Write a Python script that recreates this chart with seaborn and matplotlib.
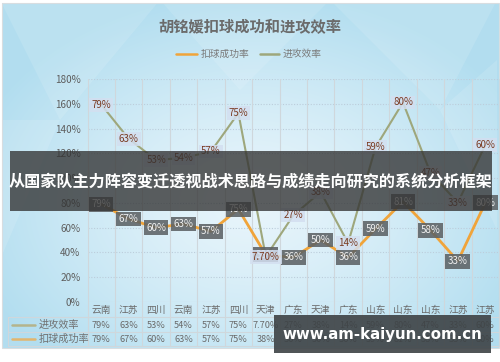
import numpy as np
import pandas as pd
import matplotlib
matplotlib.use("Agg")
import matplotlib.pyplot as plt
from matplotlib.patches import Rectangle
from matplotlib.transforms import blended_transform_factory
import seaborn as sns

sns.set_theme(style="white")
plt.rcParams['font.family'] = ['Noto Sans CJK SC', 'DejaVu Sans']

# ---------------- data ----------------
title = "胡铭媛扣球成功和进攻效率"
categories = ["云南", "江苏", "四川", "云南", "江苏", "四川", "天津", "广东",
              "天津", "广东", "山东", "山东", "山东", "江苏", "江苏"]
attack_eff = [79, 63, 53, 54, 57, 75, 7.7, 27, 38, 14, 59, 80, 47, 33, 60]      # 进攻效率
spike_rate = [79, 67, 60, 63, 57, 75, 38, 36, 50, 36, 59, 81, 58, 33, 80]       # 扣球成功率
series_names = ["扣球成功率", "进攻效率"]
y_ticks = [0, 20, 40, 60, 80, 100, 120, 140, 160, 180]
banner_text = "从国家队主力阵容变迁透视战术思路与成绩走向研究的系统分析框架"
watermark = "www.am-kaiyun.com.cn"

ORANGE = "#f0a43a"
GREEN = "#9ea77c"

W, H = 500, 362
fig = plt.figure(figsize=(W / 100, H / 100), dpi=100)
fig.patch.set_facecolor("white")

def fx(px):
    return px / W

def fy(py):
    return 1 - py / H

# ---------------- background ----------------
bg = fig.add_axes([0, 0, 1, 1], zorder=-10)
bg.set_xlim(0, W)
bg.set_ylim(H, 0)
bg.axis("off")
yy, xx = np.mgrid[0:346, 0:497]
cx, cy = 250, 200
d = np.sqrt(((xx - cx) / 290.0) ** 2 + ((yy - cy) / 210.0) ** 2)
d = np.clip(d, 0, 1)
light = np.array([0.91, 0.96, 0.985])
dark = np.array([0.70, 0.87, 0.94])
w = d[..., None] ** 1.3
img = light[None, None, :] * (1 - w) + dark[None, None, :] * w
bg.imshow(img, extent=(2, 499, 348, 3), aspect="auto", zorder=0)
facets = [((0, 0), (160, 0), (60, 120)), ((160, 0), (330, 0), (240, 90)),
          ((330, 0), (497, 0), (440, 110)), ((0, 120), (60, 120), (0, 260)),
          ((440, 110), (497, 60), (497, 230))]
for tri in facets:
    bg.add_patch(plt.Polygon(tri, closed=True, facecolor="white", alpha=0.12, edgecolor="none", zorder=1))
bg.add_patch(Rectangle((2, 3), 497, 345, fill=False, edgecolor="#d8dde0", lw=0.8, zorder=2))

# ---------------- main axes ----------------
left, right, top, bottom = 87.5, 499, 79, 302
ax = fig.add_axes([fx(left), fy(bottom), fx(right - left), (bottom - top) / H])
ax.patch.set_visible(False)
x = np.arange(len(categories))
df = pd.DataFrame({"x": x, "cat": categories, "eff": attack_eff, "spike": spike_rate})

sns.lineplot(data=df, x="x", y="spike", ax=ax, color=ORANGE, lw=2.0, sort=False, zorder=3)
ax.set_xlim(-0.5, len(categories) - 0.5)
ax.set_ylim(0, 180)
ax.set_yticks(y_ticks)
ax.set_yticklabels([f"{t}%" for t in y_ticks], color="#5e5e5e", fontsize=7.2)
ax.tick_params(axis="y", length=0, pad=5)
ax.set_xticks([])
ax.set_xlabel("")
ax.set_ylabel("")
for s in ax.spines.values():
    s.set_visible(False)
for t in y_ticks[1:]:
    ax.axhline(t, color="#bccddb", lw=0.8, ls=(0, (1, 1.5)), zorder=1)
ax.axhline(0, color="#cfd6da", lw=0.8, zorder=1)

ax2 = ax.twinx()
ax2.patch.set_visible(False)
sns.lineplot(data=df, x="x", y="eff", ax=ax2, color=GREEN, lw=1.5, sort=False, zorder=3)
ax2.set_ylim(-13.6, 91)
ax2.set_xlim(-0.5, len(categories) - 0.5)
ax2.set_yticks([])
ax2.set_ylabel("")
ax2.set_xlabel("")
for s in ax2.spines.values():
    s.set_visible(False)

def fmt(v):
    return f"{v:.2f}%" if float(v) != int(v) else f"{int(v)}%"

# data labels
for xi, v in zip(x, attack_eff):
    ax2.text(xi, v, fmt(v), ha="center", va="center", fontsize=7, color="#7a3b22",
             zorder=6, bbox=dict(boxstyle="square,pad=0.2", fc="#d3dff0", ec="none", alpha=0.85))
for xi, v in zip(x, spike_rate):
    ax2.text(xi, v, fmt(v), ha="center", va="center", fontsize=7, color="#f2f2f2",
             transform=ax.transData, zorder=5,
             bbox=dict(boxstyle="square,pad=0.25", fc="#5d6265", ec="none", alpha=0.88))

# ---------------- vertical category lines ----------------
btr = blended_transform_factory(ax.transData, fig.transFigure)
for b in np.arange(-0.5, len(categories), 1.0):
    ax.plot([b, b], [fy(top), fy(346)], transform=btr, color="#cfd7dc", lw=0.8,
            zorder=1, clip_on=False)

# ---------------- data table ----------------
row_y = [310, 325, 339]
for yl in [317, 332, 346]:
    fig.add_artist(plt.Line2D([fx(8), fx(right)], [fy(yl), fy(yl)], color="#cfd7dc", lw=0.8))
fig.add_artist(plt.Line2D([fx(8), fx(8)], [fy(317), fy(346)], color="#cfd7dc", lw=0.8))
for xi, c in zip(x, categories):
    ax.text(xi, fy(row_y[0]), c, transform=btr, ha="center", va="center", fontsize=7,
            color="#6a6a6a", clip_on=False)
for xi, v in zip(x, attack_eff):
    ax.text(xi, fy(row_y[1]), fmt(v), transform=btr, ha="center", va="center", fontsize=6.6,
            color="#6a6a6a", clip_on=False)
for xi, v in zip(x, spike_rate):
    ax.text(xi, fy(row_y[2]), fmt(v), transform=btr, ha="center", va="center", fontsize=6.6,
            color="#6a6a6a", clip_on=False)
for name, yl, col in [(series_names[1], row_y[1], "#b4b48c"), (series_names[0], row_y[2], "#e2b66e")]:
    fig.add_artist(plt.Line2D([fx(12), fx(35)], [fy(yl), fy(yl)], color=col, lw=1.8))
    fig.text(fx(39), fy(yl), name, ha="left", va="center", fontsize=7.3, color="#707070")

# ---------------- title & legend ----------------
fig.text(0.5, fy(27), title, ha="center", va="center", fontsize=11, fontweight="bold", color="#6b6b6b")
fig.add_artist(plt.Line2D([fx(176), fx(197)], [fy(54), fy(54)], color=ORANGE, lw=1.8))
fig.text(fx(201), fy(54), series_names[0], ha="left", va="center", fontsize=7, color="#7a7a7a")
fig.add_artist(plt.Line2D([fx(260), fx(279)], [fy(54), fy(54)], color=GREEN, lw=1.8))
fig.text(fx(283), fy(54), series_names[1], ha="left", va="center", fontsize=7, color="#7a7a7a")

# ---------------- overlays ----------------
fig.add_artist(Rectangle((fx(10), fy(211)), fx(482), (211 - 151) / H, transform=fig.transFigure,
                         facecolor=(0.2, 0.2, 0.2), alpha=0.78, edgecolor="none", zorder=20))
fig.text(fx(251), fy(182), banner_text, ha="center", va="center", fontsize=11.6,
         fontweight="bold", color="white", zorder=21)
fig.add_artist(Rectangle((fx(274), fy(353)), fx(217), (353 - 315) / H, transform=fig.transFigure,
                         facecolor=(0.24, 0.26, 0.27), alpha=0.9, edgecolor="none", zorder=20))
fig.text(fx(382), fy(334), watermark, ha="center", va="center", fontsize=10.8,
         fontweight="bold", color="white", family="DejaVu Sans", zorder=21)

fig.savefig("out.png", dpi=100)
